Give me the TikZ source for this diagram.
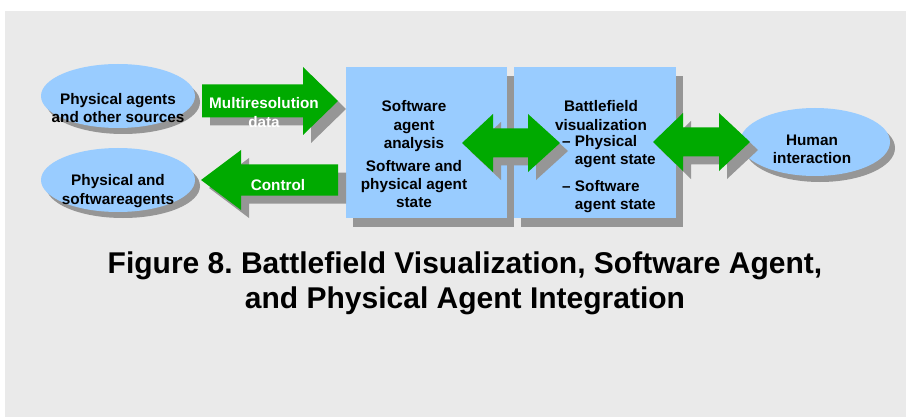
\documentclass[tikz,border=0pt]{standalone}
\usepackage{fontspec}
\setmainfont{Liberation Sans}
\usetikzlibrary{shapes.geometric,shadows}
\frenchspacing

\definecolor{skyblue}{HTML}{99CCFF}
\definecolor{arrowgreen}{HTML}{00AA00}
\definecolor{shadowgray}{HTML}{969696}
\definecolor{paper}{HTML}{EAEAEA}

\tikzset{
  dropgray/.style 2 args={drop shadow={shadow xshift=#1, shadow yshift=-#2, fill=shadowgray, opacity=1}},
  bubble/.style={ellipse, fill=skyblue, inner sep=0pt, outer sep=0pt, dropgray={5pt}{6pt}},
  panel/.style={rectangle, fill=skyblue, inner sep=0pt, outer sep=0pt, anchor=north west, dropgray={7pt}{9pt}},
  greenarrow/.style={fill=arrowgreen, dropgray={8pt}{8pt}},
  lbl/.style={font=\bfseries\fontsize{15.3}{18.3}\selectfont, align=center, inner sep=0pt},
  arrowlbl/.style={lbl, text=white},
  figtitle/.style={font=\bfseries\fontsize{30}{35}\selectfont, align=center, inner sep=0pt}
}

% tail x, head base x, tip x, mid y, half shaft, half head
\newcommand{\blockarrow}[6]{%
  \fill[greenarrow] (#1,#4-#5) -- (#2,#4-#5) -- (#2,#4-#6) -- (#3,#4)
    -- (#2,#4+#6) -- (#2,#4+#5) -- (#1,#4+#5) -- cycle;}
% left tip, left head base, right head base, right tip, mid y, half shaft, half head
\newcommand{\twinarrow}[7]{%
  \fill[greenarrow] (#1,#5) -- (#2,#5-#7) -- (#2,#5-#6) -- (#3,#5-#6) -- (#3,#5-#7) -- (#4,#5)
    -- (#3,#5+#7) -- (#3,#5+#6) -- (#2,#5+#6) -- (#2,#5+#7) -- cycle;}

\begin{document}
\begin{tikzpicture}[x=1pt,y=-1pt]
  \useasboundingbox (0,0) rectangle (913,417);
  %BACKGROUND
  \fill[paper] (5,11) rectangle (906,417);

  %PANELS
  \node[panel, minimum width=161pt, minimum height=151pt] (analysis) at (346,67) {};
  \node[panel, minimum width=162pt, minimum height=151pt] (battle) at (514,67) {};

  %ELLIPSES
  \node[bubble, minimum width=154pt, minimum height=64pt] (sources) at (118,96) {};
  \node[bubble, minimum width=154pt, minimum height=64pt] (agents) at (118,180) {};
  \node[bubble, minimum width=150pt, minimum height=68pt] (human) at (815,142) {};

  %BLOCK ARROWS
  \blockarrow{202}{303}{338}{101}{16.5}{34}
  \blockarrow{338}{241}{201}{180}{15.5}{30}
  \twinarrow{462}{493}{528}{560}{143}{14.5}{29}
  \twinarrow{653}{683}{719}{750}{142}{14.5}{29}

  %TEXTS
  \node[lbl] (sourcesText) at ([yshift=-12pt]sources.center) {Physical agents\\and other sources};
  \node[lbl] (agentsText) at ([yshift=-11pt]agents.center) {Physical and\\softwareagents};
  \node[lbl] (humanText) at ([xshift=-3pt,yshift=-7pt]human.center) {Human\\interaction};
  \node[arrowlbl] (dataText) at (264,112.5) {Multiresolution\\data};
  \node[arrowlbl] (controlText) at (278,185) {Control};
  \node[lbl] (analysisText) at (414,154.5) {Software\\agent\\analysis\\[4.5pt]Software and\\physical agent\\state};
  \node[lbl] (battleHead) at (601,115.5) {Battlefield\\visualization};
  \node[lbl, align=left, anchor=west] (battleList) at (562,174)
    {– Physical\\\phantom{– }agent state\\[8.5pt]– Software\\\phantom{– }agent state};

  %CAPTION
  \node[figtitle] (title) at (465,283) {Figure 8. Battlefield Visualization, Software Agent,\\and Physical Agent Integration};
\end{tikzpicture}
\end{document}
